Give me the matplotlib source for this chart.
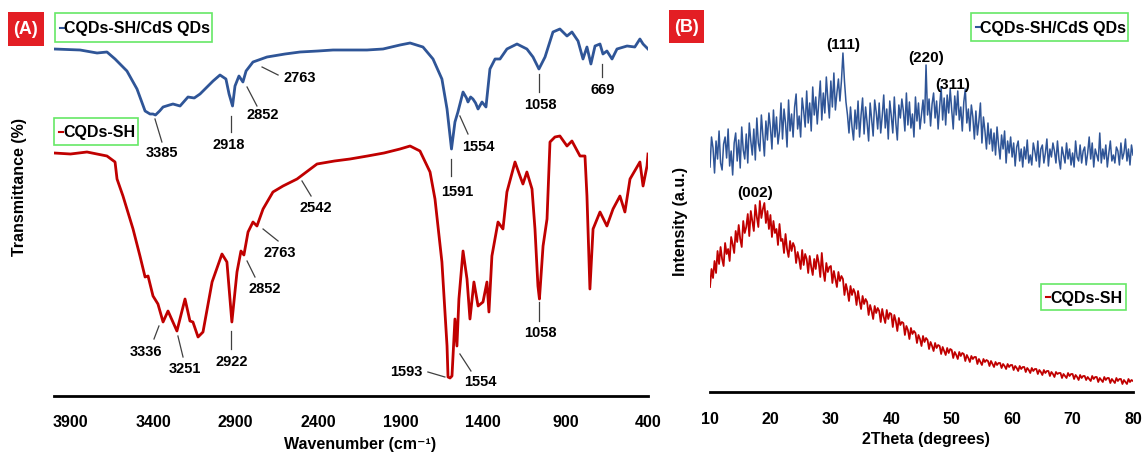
import matplotlib
matplotlib.use("Agg")
import matplotlib.pyplot as plt
from matplotlib.patches import Rectangle
from matplotlib.lines import Line2D

plt.rcParams['font.family'] = ['Liberation Sans', 'DejaVu Sans']
plt.rcParams['font.weight'] = 'bold'

W, H = 1142, 456

# ---------------- FTIR data (panel A) ----------------
ftir_cds_wn = [4000, 3842, 3739, 3679, 3630, 3558, 3497, 3448, 3418, 3400, 3385, 3360, 3339, 3300,
               3279, 3236, 3188, 3150, 3115, 3036, 2994, 2958, 2939, 2918, 2903, 2879, 2855, 2836,
               2794, 2709, 2600, 2509, 2400, 2309, 2200, 2103, 2006, 1903, 1842, 1764, 1703, 1649,
               1618, 1591, 1570, 1552, 1521, 1500, 1491, 1475, 1461, 1445, 1430, 1406, 1382, 1358,
               1327, 1297, 1255, 1194, 1134, 1097, 1061, 1024, 976, 934, 891, 861, 824, 794, 770,
               746, 721, 691, 673, 649, 618, 588, 527, 480, 449, 430, 400]
ftir_cds_t = [350, 349, 346, 347, 340, 328, 310, 288, 285, 285, 284, 288, 292, 294,
              295, 293, 302, 301, 305, 318, 324, 320, 305, 293, 313, 323, 317, 328,
              337, 342, 345, 347, 348, 349, 349, 349, 350, 354, 356, 352, 340, 320,
              290, 250, 277, 287, 307, 301, 297, 302, 300, 296, 290, 297, 292, 330,
              340, 340, 350, 355, 350, 342, 330, 342, 367, 370, 363, 367, 358, 340, 352,
              335, 353, 355, 345, 348, 340, 350, 353, 352, 360, 355, 350]

ftir_sh_wn = [4000, 3900, 3800, 3679, 3630, 3618, 3582, 3521, 3479, 3448, 3430, 3400, 3370, 3339,
              3309, 3255, 3206, 3176, 3158, 3127, 3097, 3042, 2982, 2952, 2922, 2891, 2867, 2849,
              2824, 2794, 2770, 2733, 2673, 2612, 2527, 2406, 2300, 2206, 2100, 2000, 1903, 1842,
              1782, 1721, 1691, 1649, 1618, 1612, 1600, 1588, 1570, 1558, 1546, 1521, 1497, 1479,
              1455, 1430, 1400, 1376, 1364, 1346, 1309, 1279, 1255, 1206, 1176, 1158, 1134, 1103,
              1085, 1067, 1058, 1036, 1012, 994, 964, 934, 891, 861, 812, 782, 770, 752, 733, 691,
              649, 612, 570, 540, 509, 449, 430, 406, 400]
ftir_sh_t = [246, 245, 247, 243, 237, 220, 203, 170, 143, 122, 123, 103, 95, 77,
             88, 68, 100, 78, 77, 62, 67, 117, 145, 137, 77, 127, 148, 144,
             167, 177, 173, 190, 207, 213, 220, 235, 238, 240, 243, 246, 250, 253,
             248, 227, 200, 137, 53, 22, 21, 23, 80, 53, 100, 148, 120, 80,
             117, 93, 97, 117, 87, 143, 177, 170, 207, 237, 223, 215, 227, 210,
             170, 113, 100, 153, 180, 257, 262, 263, 253, 258, 243, 243, 203, 110, 170, 187,
             173, 190, 203, 187, 220, 237, 213, 233, 245]

ftir_ticks = [3900, 3400, 2900, 2400, 1900, 1400, 900, 400]

# peak labels: (text, line start, line end, text position) in (wavenumber, transmittance)
cds_peaks = [("3385", (3388, 280), (3346, 257), (3346, 247)),
             ("2918", (2927, 283), (2927, 267), (2939, 255)),
             ("2852", (2830, 312), (2770, 293), (2733, 285)),
             ("2763", (2739, 332), (2642, 324), (2509, 322)),
             ("1591", (1594, 240), (1594, 223), (1558, 208)),
             ("1554", (1540, 283), (1491, 265), (1430, 253)),
             ("1058", (1061, 325), (1061, 307), (1055, 295)),
             ("669", (679, 335), (679, 322), (673, 310))]
sh_peaks = [("3336", (3364, 73), (3394, 60), (3442, 48)),
            ("3251", (3249, 63), (3218, 42), (3206, 31)),
            ("2922", (2927, 68), (2927, 50), (2921, 38)),
            ("2852", (2830, 138), (2782, 122), (2721, 111)),
            ("2763", (2733, 170), (2642, 158), (2630, 147)),
            ("2542", (2497, 218), (2442, 203), (2412, 192)),
            ("1593", (1631, 22), (1734, 27), (1867, 28)),
            ("1554", (1540, 45), (1473, 28), (1418, 18)),
            ("1058", (1061, 97), (1061, 78), (1055, 67))]

# ---------------- XRD data (panel B), 10..80 deg in 0.25 deg steps ----------------
xrd_start, xrd_step = 10.0, 0.25
xrd_cds = [
    232, 262, 251, 226, 258, 240, 268, 236, 229, 255, 262, 241, 270, 233, 248, 224,
    256, 266, 238, 259, 231, 272, 249, 240, 265, 236, 276, 258, 244, 270, 239, 281,
    256, 248, 284, 264, 243, 278, 259, 286, 271, 250, 289, 262, 282, 255, 268, 296,
    260, 290, 276, 252, 299, 268, 285, 262, 292, 305, 270, 283, 262, 301, 288, 272,
    308, 276, 296, 268, 312, 284, 302, 275, 296, 318, 279, 306, 286, 322, 300, 281,
    318, 292, 326, 289, 306, 320, 298, 318, 346, 318, 297, 284, 266, 292, 272, 259,
    289, 270, 298, 262, 284, 301, 265, 292, 276, 258, 296, 280, 263, 299, 287, 270,
    296, 266, 283, 304, 271, 290, 260, 298, 283, 266, 302, 276, 259, 294, 281, 300,
    288, 268, 306, 274, 297, 271, 285, 262, 302, 278, 296, 270, 284, 299, 276, 334,
    284, 300, 273, 295, 306, 281, 298, 270, 292, 312, 279, 301, 274, 304, 286, 310,
    289, 270, 303, 284, 308, 279, 292, 268, 297, 310, 276, 290, 268, 294, 282, 260,
    288, 264, 278, 296, 256, 282, 268, 250, 276, 255, 270, 248, 266, 244, 272, 254,
    240, 264, 250, 268, 236, 258, 246, 262, 242, 256, 233, 252, 258, 238, 250, 232,
    252, 240, 259, 236, 244, 234, 256, 248, 238, 258, 232, 250, 254, 236, 246, 260,
    233, 250, 242, 256, 248, 236, 258, 240, 230, 252, 244, 236, 256, 240, 250, 234,
    246, 232, 258, 242, 238, 254, 236, 248, 252, 234, 246, 262, 240, 256, 232, 250,
    244, 238, 266, 236, 250, 240, 254, 232, 246, 258, 238, 244, 236, 252, 248, 234,
    256, 240, 246, 260, 238, 250, 234, 254, 244]
xrd_sh = [
    112, 130, 121, 138, 126, 148, 135, 152, 140, 133, 156, 145, 150, 138, 162, 155,
    146, 168, 157, 174, 160, 152, 178, 166, 172, 185, 163, 188, 178, 168, 194, 182,
    172, 198, 181, 190, 196, 176, 188, 170, 184, 162, 178, 166, 170, 154, 175, 158,
    160, 146, 165, 150, 142, 158, 148, 156, 152, 136, 147, 140, 130, 149, 134, 145,
    140, 126, 143, 132, 124, 140, 130, 144, 136, 122, 146, 128, 118, 136, 127, 132,
    133, 116, 128, 120, 112, 127, 118, 123, 120, 104, 115, 108, 98, 113, 104, 110,
    106, 94, 108, 98, 90, 103, 95, 100, 97, 84, 94, 88, 80, 93, 86, 91,
    88, 77, 90, 82, 76, 89, 80, 86, 85, 72, 84, 78, 68, 81, 74, 77,
    76, 64, 73, 69, 60, 71, 65, 68, 66, 56, 64, 60, 53, 63, 57, 61,
    59, 50, 57, 53, 48, 56, 51, 54, 53, 45, 52, 48, 44, 51, 46, 50,
    49, 41, 47, 44, 40, 47, 43, 46, 45, 38, 44, 41, 37, 43, 40, 42,
    42, 35, 40, 37, 34, 40, 37, 39, 38, 33, 38, 35, 32, 37, 34, 36,
    36, 31, 35, 33, 30, 35, 32, 34, 34, 29, 33, 31, 28, 33, 30, 32,
    32, 27, 31, 29, 26, 31, 28, 30, 30, 25, 29, 27, 24, 29, 26, 28,
    28, 23, 27, 25, 22, 27, 25, 26, 26, 21, 25, 23, 21, 26, 23, 25,
    25, 20, 24, 22, 19, 24, 21, 23, 23, 19, 22, 20, 18, 23, 20, 22,
    22, 17, 21, 19, 17, 22, 19, 21, 21, 16, 20, 18, 16, 21, 18, 20,
    20, 15, 19, 17, 15, 20, 17, 19, 18]
xrd_ticks = [10, 20, 30, 40, 50, 60, 70, 80]
xrd_peaks = [("(111)", 32.0, 355), ("(220)", 45.8, 342), ("(311)", 50.2, 315), ("(002)", 17.4, 207)]

BLUE = '#2F5597'
RED = '#C00000'
GREEN = '#66E866'
LABEL_RED = '#E31E24'


def fx(x):
    return x / W


def fy(y):
    return 1 - y / H


fig = plt.figure(figsize=(W / 100, H / 100), dpi=100)

# ---------- panel A ----------
axA = fig.add_axes([fx(54), fy(397), fx(648) - fx(54), fy(5) - fy(397)])
axA.plot(ftir_cds_wn, ftir_cds_t, color=BLUE, lw=2.0)
axA.plot(ftir_sh_wn, ftir_sh_t, color=RED, lw=2.0)
axA.set_xlim(4000, 400)
axA.set_ylim(3, 395)
axA.set_xticks(ftir_ticks)
axA.set_xticklabels([str(t) for t in ftir_ticks], fontsize=11.5, fontweight='bold')
axA.tick_params(axis='x', length=0, pad=13)
axA.set_yticks([])
for s in ['top', 'right', 'left']:
    axA.spines[s].set_visible(False)
axA.spines['bottom'].set_linewidth(2.0)
for label, p0, p1, pt in cds_peaks + sh_peaks:
    axA.plot([p0[0], p1[0]], [p0[1], p1[1]], color='#404040', lw=0.9)
    axA.text(pt[0], pt[1], label, fontsize=10.5, fontweight='bold', ha='center', va='center')

# ---------- panel B ----------
axB = fig.add_axes([fx(710), fy(393), fx(1133) - fx(710), fy(5) - fy(393)])
xs_c = [xrd_start + i * xrd_step for i in range(len(xrd_cds))]
xs_s = [xrd_start + i * xrd_step for i in range(len(xrd_sh))]
axB.plot(xs_c, xrd_cds, color=BLUE, lw=1.1)
axB.plot(xs_s, xrd_sh, color=RED, lw=1.3)
axB.set_xlim(10, 80)
axB.set_ylim(7, 395)
axB.set_xticks(xrd_ticks)
axB.set_xticklabels([str(t) for t in xrd_ticks], fontsize=11.5, fontweight='bold')
axB.tick_params(axis='x', length=0, pad=14)
axB.set_yticks([])
for s in ['top', 'right', 'left']:
    axB.spines[s].set_visible(False)
axB.spines['bottom'].set_linewidth(2.0)
for label, x, y in xrd_peaks:
    axB.text(x, y, label, fontsize=11, fontweight='bold', ha='center', va='center')

# ---------- axis titles ----------
fig.text(fx(360), fy(445), 'Wavenumber (cm\u207b\u00b9)', fontsize=11.5, fontweight='bold',
         ha='center', va='center', family=['Liberation Sans', 'DejaVu Sans'])
fig.text(fx(926), fy(440), '2Theta (degrees)', fontsize=11.5, fontweight='bold',
         ha='center', va='center')
fig.text(fx(20), fy(187), 'Transmittance (%)', fontsize=11.5, fontweight='bold', rotation=90,
         ha='center', va='center')
fig.text(fx(681), fy(222), 'Intensity (a.u.)', fontsize=11.5, fontweight='bold', rotation=90,
         ha='center', va='center')

# ---------- panel tags ----------
for tag, (x0, y0, x1, y1) in [('(A)', (8, 13, 44, 47)), ('(B)', (669, 11, 704, 44))]:
    fig.patches.append(Rectangle((fx(x0), fy(y1)), fx(x1) - fx(x0), fy(y0) - fy(y1),
                                 transform=fig.transFigure, facecolor=LABEL_RED, edgecolor='none'))
    fig.text(fx((x0 + x1) / 2), fy((y0 + y1) / 2), tag, color='white', fontsize=13,
             fontweight='bold', ha='center', va='center')

# ---------- legend boxes ----------
legends = [('CQDs-SH/CdS QDs', BLUE, (55, 14, 212, 43)),
           ('CQDs-SH', RED, (54, 119, 138, 146)),
           ('CQDs-SH/CdS QDs', BLUE, (971, 14, 1128, 42)),
           ('CQDs-SH', RED, (1041, 285, 1126, 311))]
for text, col, (x0, y0, x1, y1) in legends:
    fig.patches.append(Rectangle((fx(x0), fy(y1)), fx(x1) - fx(x0), fy(y0) - fy(y1),
                                 transform=fig.transFigure, facecolor='white',
                                 edgecolor=GREEN, lw=1.2))
    ym = (y0 + y1) / 2
    fig.lines.append(Line2D([fx(x0 + 5), fx(x0 + 9)], [fy(ym), fy(ym)], color=col, lw=1.5,
                            transform=fig.transFigure))
    fig.text(fx(x0 + 9), fy(ym), text, fontsize=11.5, fontweight='bold', ha='left', va='center')

fig.savefig('out.png', dpi=100)
